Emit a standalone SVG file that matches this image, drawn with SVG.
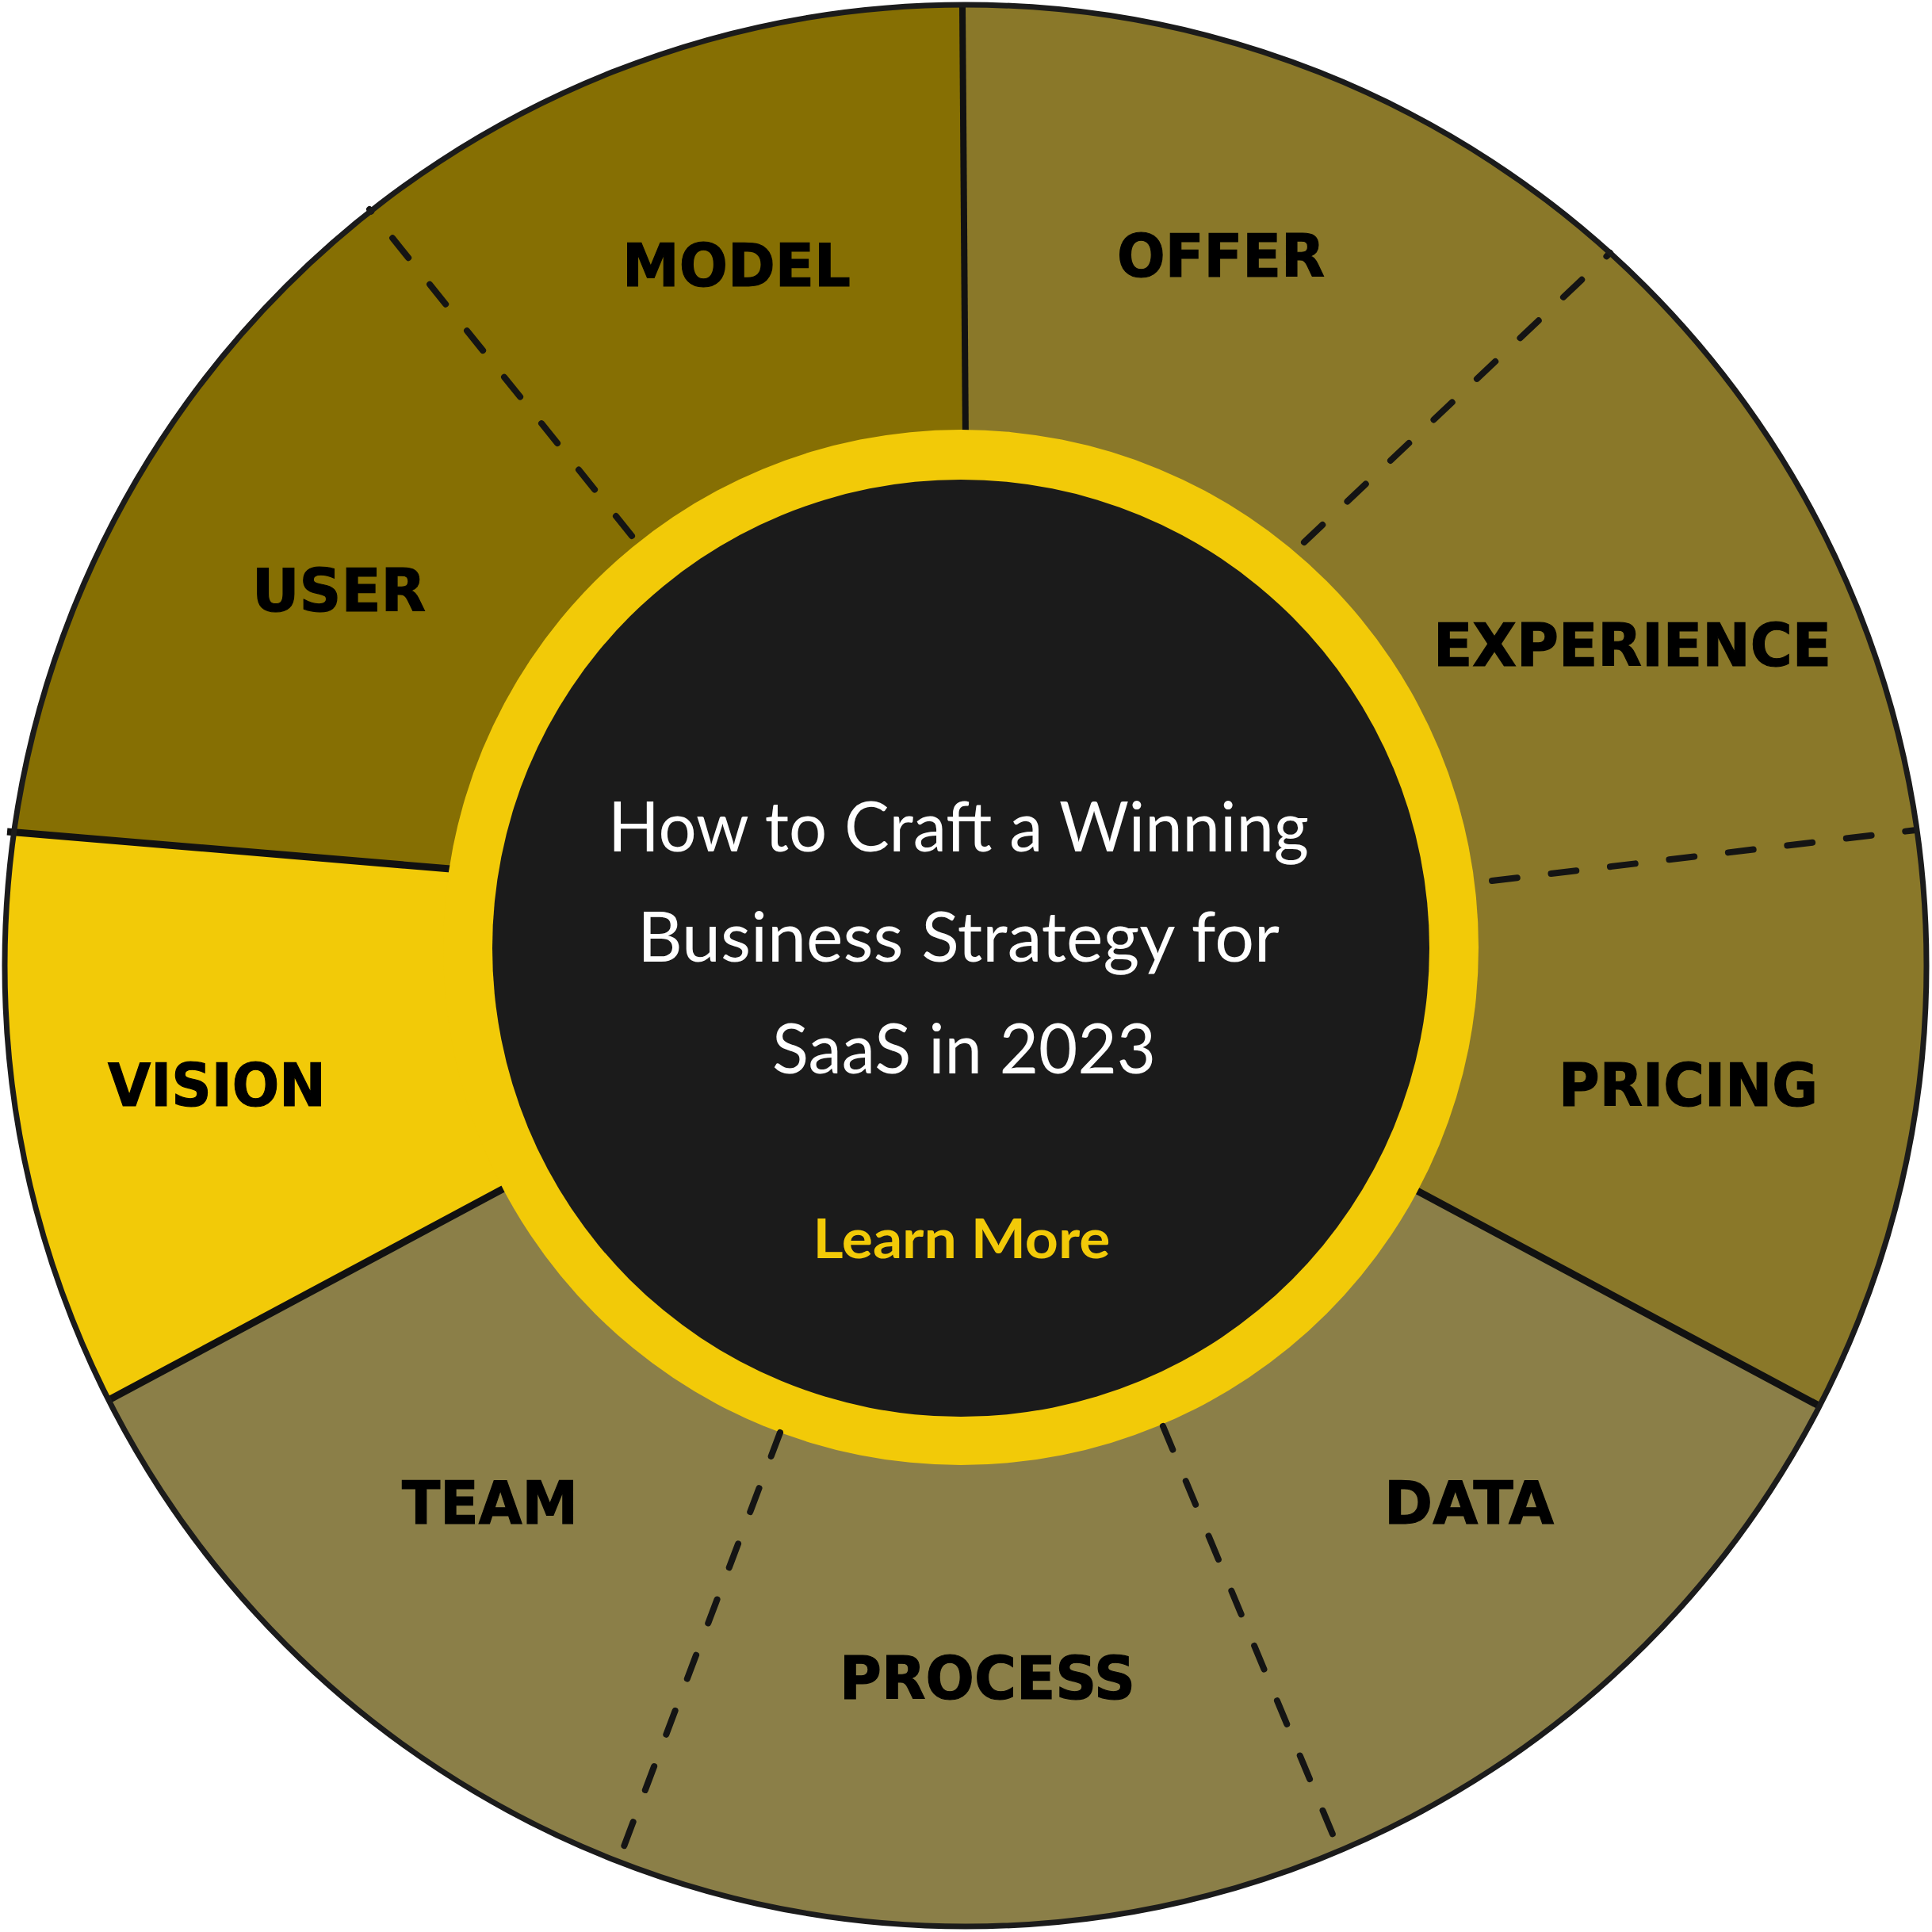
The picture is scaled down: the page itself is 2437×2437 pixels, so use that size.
<svg xmlns="http://www.w3.org/2000/svg" width="2437" height="2437" viewBox="0 0 2437 2437">
<defs>
<clipPath id="disc"><circle cx="1218" cy="1218" r="1212"/></clipPath>
<style>
.lbl{font-family:"DejaVu Sans","Liberation Sans",sans-serif;font-weight:bold;font-size:74px;fill:#000;text-anchor:middle;stroke:#000;stroke-width:1.2}
.ttl{font-family:Lato,"Open Sans",sans-serif;font-weight:400;font-size:88px;fill:#fff;text-anchor:middle}
.cta{font-family:Lato,"Open Sans",sans-serif;font-weight:700;font-size:69px;fill:#f2ca08;text-anchor:middle}
.solid{stroke:#111;stroke-width:9;fill:none}
.dash{stroke:#141414;stroke-width:8;fill:none;stroke-dasharray:32 43;stroke-linecap:round}
</style>
</defs>
<rect width="2437" height="2437" fill="#fff"/>
<g id="segments" clip-path="url(#disc)">
<polygon id="seg-user-model" points="1212,1195 566,1096 -100,1040 -100,-100 1213,-100 1218,545" fill="#866f03"/>
<polygon id="seg-offer-exp-pricing" points="1212,1195 1218,545 1213,-100 2537,-100 2537,1903 1789,1503" fill="#8a7829"/>
<polygon id="seg-team-process-data" points="1212,1195 1789,1503 2537,1903 2537,2537 -100,2537 -100,1892 634,1500" fill="#8b7f48"/>
<polygon id="seg-vision" points="1212,1195 634,1500 -100,1892 -100,1040 566,1096" fill="#f2ca08"/>
</g>
<g id="connectors">
<line class="solid" x1="1218" y1="560" x2="1214" y2="8" style="stroke-width:8"/>
<line class="solid" x1="580" y1="1097" x2="9" y2="1049"/>
<line class="solid" x1="645" y1="1494" x2="137" y2="1766"/>
<line class="solid" x1="1780" y1="1498" x2="2294" y2="1773"/>
</g>
<g id="center">
<circle cx="1212" cy="1195" r="653" fill="#f2ca08"/>
<circle cx="1212" cy="1196" r="591" fill="#1b1b1b"/>
</g>
<g id="dividers">
<line class="dash" x1="797" y1="676" x2="466" y2="264"/>
<line class="dash" x1="1645" y1="684" x2="2031" y2="319"/>
<line class="dash" x1="1882" y1="1111" x2="2417" y2="1047"/>
<line class="dash" x1="1467" y1="1799" x2="1689" y2="2333"/>
<line class="dash" x1="984" y1="1807" x2="781" y2="2345"/>
</g>
<circle id="rim" cx="1218" cy="1218" r="1212" fill="none" stroke="#1b1b1b" stroke-width="7"/>
<g id="node-model"><text class="lbl" x="929" y="361" textLength="288" lengthAdjust="spacingAndGlyphs">MODEL</text></g>
<g id="node-offer"><text class="lbl" x="1540" y="349" textLength="262" lengthAdjust="spacingAndGlyphs">OFFER</text></g>
<g id="node-experience"><text class="lbl" x="2059" y="840" textLength="502" lengthAdjust="spacingAndGlyphs">EXPERIENCE</text></g>
<g id="node-user"><text class="lbl" x="427.5" y="771" textLength="219" lengthAdjust="spacingAndGlyphs">USER</text></g>
<g id="node-pricing"><text class="lbl" x="2129.5" y="1395" textLength="327" lengthAdjust="spacingAndGlyphs">PRICING</text></g>
<g id="node-vision"><text class="lbl" x="273.5" y="1395" textLength="275" lengthAdjust="spacingAndGlyphs">VISION</text></g>
<g id="node-team"><text class="lbl" x="618" y="1922" textLength="222" lengthAdjust="spacingAndGlyphs">TEAM</text></g>
<g id="node-process"><text class="lbl" x="1245.5" y="2143" textLength="373" lengthAdjust="spacingAndGlyphs">PROCESS</text></g>
<g id="node-data"><text class="lbl" x="1853" y="1922" textLength="214" lengthAdjust="spacingAndGlyphs">DATA</text></g>
<g id="node-title">
<text class="ttl" x="1209" y="1074" textLength="884" lengthAdjust="spacingAndGlyphs">How to Craft a Winning</text>
<text class="ttl" x="1209" y="1213" textLength="810" lengthAdjust="spacingAndGlyphs">Business Strategy for</text>
<text class="ttl" x="1216" y="1354" textLength="484" lengthAdjust="spacingAndGlyphs">SaaS in 2023</text>
<text class="cta" x="1213" y="1587" textLength="375" lengthAdjust="spacingAndGlyphs">Learn More</text>
</g>
</svg>
